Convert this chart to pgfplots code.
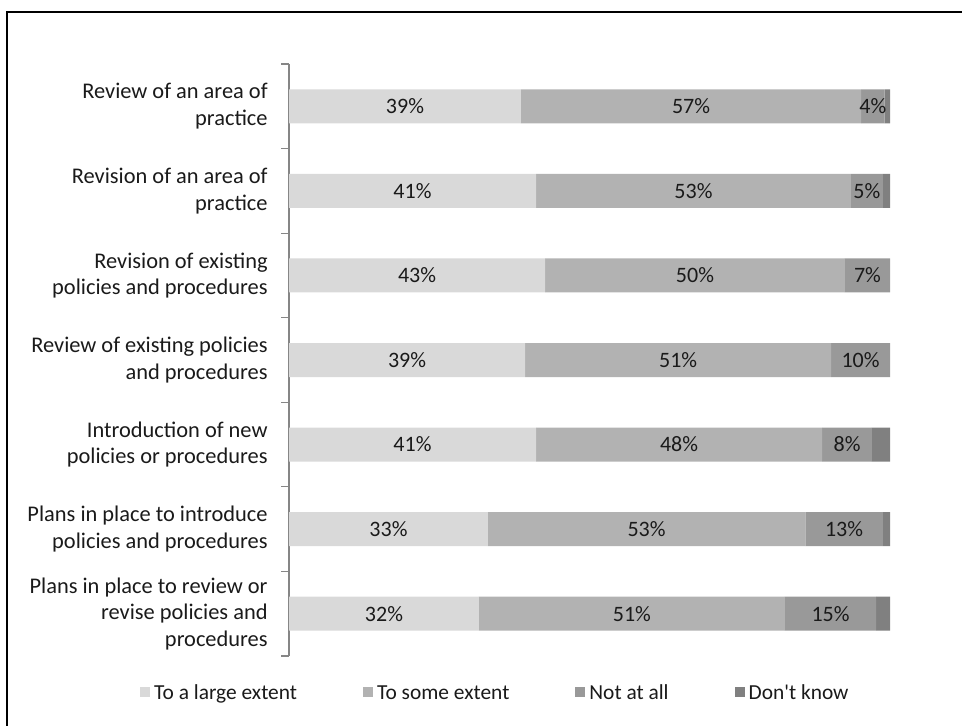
\documentclass[border=0pt]{standalone}
\usepackage{pgfplots}
\usepackage{pgfplotstable}
\pgfplotsset{compat=1.18}
\usepackage{fontspec}
\setmainfont{Carlito}
\definecolor{cA}{HTML}{D9D9D9}
\definecolor{cB}{HTML}{B2B2B2}
\definecolor{cC}{HTML}{999999}
\definecolor{cD}{HTML}{808080}
\definecolor{axgray}{HTML}{868686}
\definecolor{txt}{HTML}{1A1A1A}

\pgfplotstableread{
y a b c d
0 38.6 56.6 3.9 0.9
1 41.1 52.4 5.3 1.2
2 42.6 49.9 7.5 0.0
3 39.3 50.9 9.8 0.0
4 41.1 47.6 8.3 3.0
5 33.1 52.8 12.9 1.2
6 31.6 50.9 15.2 2.3
}\data

\pgfplotstableread{
x y lab
19.30 0 39
66.90 0 57
97.15 0 4
20.55 1 41
67.30 1 53
96.15 1 5
21.30 2 43
67.55 2 50
96.25 2 7
19.65 3 39
64.75 3 51
95.10 3 10
20.55 4 41
64.90 4 48
92.85 4 8
16.55 5 33
59.50 5 53
92.35 5 13
15.80 6 32
57.05 6 51
90.10 6 15
}\labels

\pgfplotsset{
  lg/.style={legend image code/.code={\fill[##1] (0pt,-2.5pt) rectangle (5pt,2.5pt);}},
}

\begin{document}
\begin{tikzpicture}
\useasboundingbox (0,0) rectangle (481pt,363pt);
\draw[line width=1pt] (3.25pt,-2pt) -- (3.25pt,357pt) -- (484pt,357pt);
\begin{axis}[
  at={(144.5pt,35pt)}, anchor=south west,
  scale only axis, width=300.5pt, height=296pt,
  xbar stacked, bar width=17pt,
  xmin=0, xmax=100, ymin=-0.5, ymax=6.5, y dir=reverse,
  separate axis lines,
  axis x line=none, axis y line*=left,
  y axis line style={draw=axgray, line width=0.6pt},
  ytick={0,...,6},
  yticklabels={{Review of an area of\\practice},
               {Revision of an area of\\practice},
               {Revision of existing\\policies and procedures},
               {Review of existing policies\\and procedures},
               {Introduction of new\\policies or procedures},
               {Plans in place to introduce\\policies and procedures},
               {Plans in place to review or\\revise policies and\\procedures}},
  yticklabel style={align=right, font=\fontsize{11.2}{13.25}\selectfont, text=txt, inner sep=0pt, xshift=-10.5pt},
  major tick length=0pt,
  minor ytick={-0.5,0.5,...,6.5},
  minor tick length=4pt,
  tick align=outside,
  minor tick style={draw=axgray, line width=0.6pt},
  legend style={at={(rel axis cs:0.345,-0.061)}, anchor=center, draw=none,
    legend columns=4, font=\fontsize{10.7}{12}\selectfont, text=txt,
    /tikz/every even column/.append style={column sep=31pt},
    /tikz/every odd column/.append style={column sep=0pt}},
  legend cell align=left,
]
\addplot[fill=cA, draw=none, lg] table[x=a, y=y]{\data};
\addplot[fill=cB, draw=none, lg] table[x=b, y=y]{\data};
\addplot[fill=cC, draw=none, lg] table[x=c, y=y]{\data};
\addplot[fill=cD, draw=none, lg] table[x=d, y=y]{\data};
\legend{\strut To a large extent, \strut To some extent, \strut Not at all, \strut Don\textquotesingle t know}
\end{axis}
\begin{axis}[
  at={(144.5pt,35pt)}, anchor=south west,
  scale only axis, width=300.5pt, height=296pt,
  xmin=0, xmax=100, ymin=-0.5, ymax=6.5, y dir=reverse,
  hide axis,
]
\addplot[draw=none, mark=none, nodes near coords={\pgfplotspointmeta\%},
  point meta=explicit symbolic, nodes near coords align=center,
  every node near coord/.append style={font=\fontsize{11}{12}\selectfont, text=txt, anchor=center}]
  table[x=x, y=y, meta=lab]{\labels};
\end{axis}
\end{tikzpicture}
\end{document}
